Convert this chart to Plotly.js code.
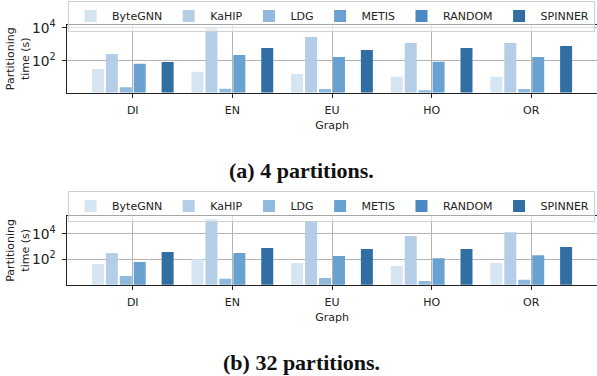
<!DOCTYPE html>
<html>
<head>
<meta charset="utf-8">
<script src="https://cdn.plot.ly/plotly-3.0.1.min.js"></script>
<style>html,body{margin:0;padding:0;background:#fff}#chart{width:597px;height:376px}</style>
</head>
<body>
<div id="chart"></div>
<script>
const graphs = ['DI', 'EN', 'EU', 'HO', 'OR'];
const seriesNames = ['ByteGNN', 'KaHIP', 'LDG', 'METIS', 'RANDOM', 'SPINNER'];
const colors = ['#d5e5f2', '#b3cee6', '#8fb9dd', '#69a2d0', '#4a89c3', '#306ea3'];

// 4 partitions (seconds); RANDOM bars are not visible in the figure
const p4_ByteGNN = [33, 22, 16, 11, 11];
const p4_KaHIP   = [265, 9500, 2850, 1230, 1230];
const p4_LDG     = [2.6, 2.1, 2.0, 1.7, 2.0];
const p4_METIS   = [69, 230, 175, 91, 175];
const p4_RANDOM  = [null, null, null, null, null];
const p4_SPINNER = [87, 610, 460, 610, 810];

// 32 partitions (seconds)
const p32_ByteGNN = [43, 100, 52, 30, 52];
const p32_KaHIP   = [310, 138000, 80000, 6500, 13000];
const p32_LDG     = [5, 3, 3.5, 2, 2.5];
const p32_METIS   = [62, 310, 180, 120, 210];
const p32_RANDOM  = [null, null, null, null, null];
const p32_SPINNER = [370, 760, 630, 630, 900];

const captions = ['(a) 4 partitions.', '(b) 32 partitions.'];

const p4 = [p4_ByteGNN, p4_KaHIP, p4_LDG, p4_METIS, p4_RANDOM, p4_SPINNER];
const p32 = [p32_ByteGNN, p32_KaHIP, p32_LDG, p32_METIS, p32_RANDOM, p32_SPINNER];

const traces = [];
seriesNames.forEach((name, i) => {
  traces.push({type: 'bar', name: name, x: graphs, y: p4[i], xaxis: 'x', yaxis: 'y',
    marker: {color: colors[i]}, legend: 'legend', showlegend: true});
});
seriesNames.forEach((name, i) => {
  traces.push({type: 'bar', name: name, x: graphs, y: p32[i], xaxis: 'x2', yaxis: 'y2',
    marker: {color: colors[i]}, legend: 'legend2', showlegend: true});
});

const H = 376;
const fy = px => 1 - px / H;
const font = {family: 'DejaVu Sans', size: 11, color: '#222'};
const axCommon = {
  showline: true, linecolor: '#222', linewidth: 1.2, mirror: true,
  ticks: 'outside', ticklen: 4, tickcolor: '#222', tickwidth: 1,
  showgrid: true, gridcolor: '#b4b4b4', gridwidth: 1, zeroline: false,
  tickfont: font
};
const xax = d => Object.assign({}, axCommon, {
  domain: [0, 1], anchor: d, type: 'category', range: [-0.66, 4.66], ticklabelstandoff: 3,
  title: {text: 'Graph', font: font, standoff: 5}
});
const yax = (dom, rng) => Object.assign({}, axCommon, {
  domain: dom, type: 'log', range: rng, tick0: 0, dtick: 2,
  exponentformat: 'power', ticklabelstandoff: 4,
  title: {text: 'Partitioning<br>time (s)', font: font, standoff: 0}
});
const legendCommon = {
  orientation: 'h', xanchor: 'left', yanchor: 'top', x: 0.002,
  bgcolor: 'rgba(255,255,255,0.6)', bordercolor: '#d0d0d0', borderwidth: 1,
  font: font, itemwidth: 33, traceorder: 'normal'
};

const layout = {
  width: 597, height: 376,
  margin: {l: 67, r: 0, t: 0, b: 0, autoexpand: false},
  paper_bgcolor: '#fff', plot_bgcolor: '#fff',
  barmode: 'group', bargap: 0.16, bargroupgap: 0.14,
  font: font,
  xaxis: xax('y'),
  yaxis: yax([fy(92.5), fy(25)], [0.09, 4.18]),
  xaxis2: xax('y2'),
  yaxis2: yax([fy(284.7), fy(216)], [0.02, 5.38]),
  legend: Object.assign({}, legendCommon, {y: fy(0.5)}),
  legend2: Object.assign({}, legendCommon, {y: fy(190.5)}),
  annotations: [
    {text: '<b>' + captions[0] + '</b>', xref: 'paper', yref: 'paper', x: 0.4425, y: fy(170),
     xanchor: 'center', yanchor: 'middle', showarrow: false,
     font: {family: 'Liberation Serif', size: 22, color: '#111'}},
    {text: '<b>' + captions[1] + '</b>', xref: 'paper', yref: 'paper', x: 0.4425, y: fy(362),
     xanchor: 'center', yanchor: 'middle', showarrow: false,
     font: {family: 'Liberation Serif', size: 22, color: '#111'}}
  ]
};

Plotly.newPlot('chart', traces, layout, {displayModeBar: false, staticPlot: true});
</script>
</body>
</html>
